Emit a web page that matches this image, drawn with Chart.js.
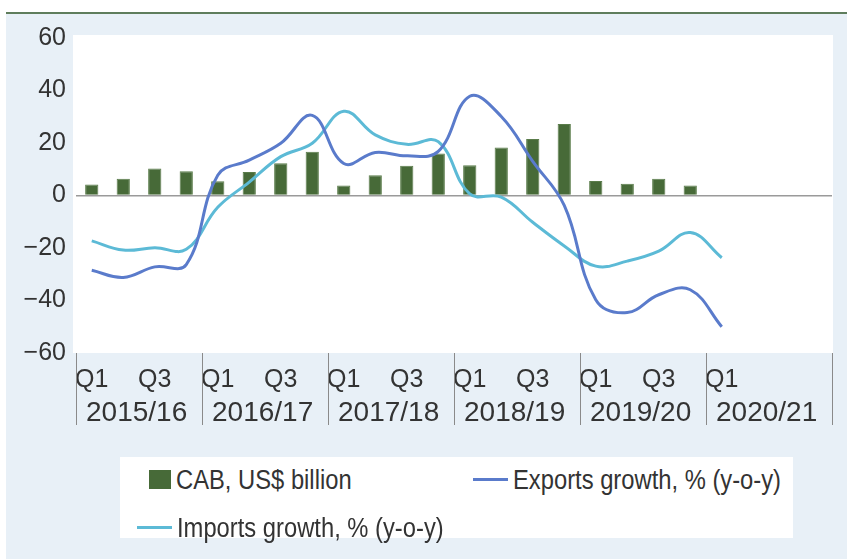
<!DOCTYPE html>
<html>
<head>
<meta charset="utf-8">
<script src="https://cdn.jsdelivr.net/npm/chart.js@4/dist/chart.umd.min.js"></script>
<style>
  body { margin: 0; background: #fff; }
  #wrap { position: relative; width: 847px; height: 559px; overflow: hidden; }
  #topline { position: absolute; left: 6px; right: 0; top: 12px; height: 2px; background: #5e7d5c; }
  #panel { position: absolute; left: 6px; right: 0; top: 14px; bottom: 0; background: #e8f0f7; }
  canvas { position: absolute; left: 0; top: 0; }
  #legend {
    position: absolute; left: 120px; top: 457px; width: 673px; height: 81px; background: #fff;
    font-family: "Liberation Sans", Arial, sans-serif;
    font-size: 27px; color: #333;
  }
  .key { position: absolute; }
  .txt { position: absolute; white-space: nowrap; line-height: 30px; transform: scaleX(0.88); transform-origin: 0 50%; }
</style>
</head>
<body>
<div id="wrap">
  <div id="topline"></div>
  <div id="panel"></div>
  <canvas id="grafik" width="847" height="559"></canvas>
  <div id="legend"></div>
</div>
<script>
// data
const years = ['2015/16', '2016/17', '2017/18', '2018/19', '2019/20', '2020/21'];
const quarterTicks = [
  'Q1', '', 'Q3', '',  'Q1', '', 'Q3', '',  'Q1', '', 'Q3', '',
  'Q1', '', 'Q3', '',  'Q1', '', 'Q3', '',  'Q1', '', '', ''
];
const cab = [4.2, 6.4, 10.3, 9.2, 5.4, 9.0, 12.3, 16.7, 3.8, 7.7, 11.3, 16.0,
             11.5, 18.3, 21.5, 27.2, 5.5, 4.5, 6.4, 3.8, null, null, null, null];
const exportsGrowth = [-28.5, -31.2, -27.2, -26.3, 7.7, 13.5, 19.9, 30.5, 12.2, 16.4, 15.1, 16.8,
                       37.8, 30.1, 13.0, -3.8, -39.7, -44.6, -37.8, -35.9, -50.0, null, null, null];
const importsGrowth = [-17.3, -20.8, -19.9, -20.5, -4.5, 5.1, 14.8, 19.9, 32.1, 23.1, 19.5, 20.5,
                       0.6, -0.6, -10.2, -19.2, -26.9, -25.0, -21.2, -14.1, -23.7, null, null, null];
const yTicks = [-60, -40, -20, 0, 20, 40, 60];

const labels = [];
years.forEach(y => ['Q1', 'Q2', 'Q3', 'Q4'].forEach(q => labels.push(y + ' ' + q)));

const sans = '"Liberation Sans", Arial, sans-serif';

// kotak putih, garis pemisah tahun dan label tahun
const yearAxis = {
  id: 'yearAxis',
  beforeDraw(chart) {
    const a = chart.chartArea, c = chart.ctx;
    c.save();
    c.fillStyle = '#ffffff';
    c.fillRect(a.left - 3, a.top - 3, a.right - a.left + 4, a.bottom - a.top + 3);
    c.restore();
  },
  afterDraw(chart) {
    const x = chart.scales.x, c = chart.ctx;
    const half = (x.getPixelForValue(1) - x.getPixelForValue(0)) / 2;
    c.save();
    c.strokeStyle = '#8a8a8a';
    c.lineWidth = 1;
    c.fillStyle = '#333';
    c.font = '28px ' + sans;
    c.textAlign = 'left';
    c.textBaseline = 'middle';
    for (let k = 0; k <= years.length; k++) {
      const px = k < years.length ? x.getPixelForValue(k * 4) - half : x.getPixelForValue(labels.length - 1) + half;
      c.beginPath();
      c.moveTo(Math.round(px) + 0.5, chart.chartArea.bottom);
      c.lineTo(Math.round(px) + 0.5, 425);
      c.stroke();
      if (k < years.length) c.fillText(years[k], px + 10, 413);
    }
    c.restore();
  }
};

const ctx = document.getElementById('grafik').getContext('2d');
const chart = new Chart(ctx, {
  type: 'bar',
  data: {
    labels: labels,
    datasets: [
      {
        type: 'bar',
        label: 'CAB, US$ billion',
        data: cab,
        backgroundColor: '#476a38',
        borderColor: '#5a7c4a',
        borderWidth: 1,
        barPercentage: 0.84,
        categoryPercentage: 0.5,
        order: 3
      },
      {
        type: 'line',
        label: 'Exports growth, % (y-o-y)',
        data: exportsGrowth,
        borderColor: '#5a7bcb',
        borderWidth: 3,
        pointRadius: 0,
        tension: 0.4,
        fill: false,
        order: 1
      },
      {
        type: 'line',
        label: 'Imports growth, % (y-o-y)',
        data: importsGrowth,
        borderColor: '#5cbad6',
        borderWidth: 3,
        pointRadius: 0,
        tension: 0.4,
        fill: false,
        order: 2
      }
    ]
  },
  options: {
    responsive: false,
    animation: false,
    layout: { padding: { top: 38, right: 15, bottom: 0, left: 0 } },
    plugins: { legend: { display: false }, tooltip: { enabled: false } },
    scales: {
      x: {
        offset: true,
        afterFit: s => { s.height = 206; },
        grid: { display: false, drawTicks: false },
        border: { display: false },
        ticks: {
          autoSkip: false, maxRotation: 0, padding: 12,
          color: '#333', font: { family: sans, size: 25 },
          callback: (v, i) => quarterTicks[i]
        }
      },
      y: {
        min: -60, max: 60,
        afterFit: s => { s.width = 76; },
        afterBuildTicks: s => { s.ticks = yTicks.map(v => ({ value: v })); },
        grid: {
          drawTicks: false,
          lineWidth: 1.5,
          color: c => c.tick && c.tick.value === 0 ? '#9a9a9a' : 'rgba(0,0,0,0)'
        },
        border: { display: false },
        ticks: {
          padding: 10, color: '#333',
          font: { family: sans, size: 25 },
          callback: v => v < 0 ? '\u2212' + Math.abs(v) : String(v)
        }
      }
    }
  },
  plugins: [yearAxis]
});

// legenda manual di kotak putih
const legendPos = [
  { key: [29, 13, 22, 19], text: [56, 8] },
  { key: [353, 21, 35, 3], text: [393, 8] },
  { key: [17, 69, 35, 3], text: [57, 56] }
];
const legend = document.getElementById('legend');
chart.data.datasets.forEach((ds, i) => {
  const p = legendPos[i];
  const k = document.createElement('div');
  k.className = 'key';
  k.style.cssText = `left:${p.key[0]}px;top:${p.key[1]}px;width:${p.key[2]}px;height:${p.key[3]}px;background:${ds.type === 'bar' ? ds.backgroundColor : ds.borderColor}`;
  const t = document.createElement('div');
  t.className = 'txt';
  t.style.cssText = `left:${p.text[0]}px;top:${p.text[1]}px`;
  t.textContent = ds.label;
  legend.appendChild(k);
  legend.appendChild(t);
});
</script>
</body>
</html>
